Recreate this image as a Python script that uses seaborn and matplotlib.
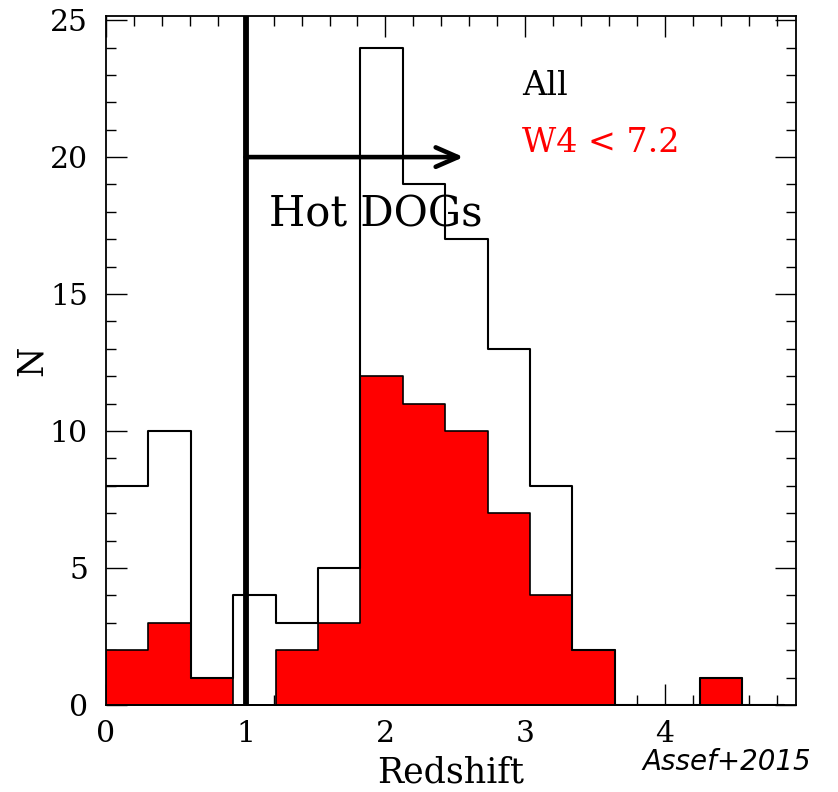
import numpy as np
import pandas as pd
import matplotlib
matplotlib.use("Agg")
import matplotlib.pyplot as plt
from matplotlib.ticker import MultipleLocator
import seaborn as sns

# ---- data ----
bin_edges = [float(v) for v in np.linspace(0.0, 4.856, 17)]
counts_all = [8, 10, 1, 4, 3, 5, 24, 19, 17, 13, 8, 2, 0, 0, 1, 0]
counts_w4 = [2, 3, 1, 0, 2, 3, 12, 11, 10, 7, 4, 2, 0, 0, 1, 0]
label_all = "All"
label_w4 = "W4 < 7.2"
cut_z = 1.0
arrow_end_z = 2.56
arrow_y = 20
region_label = "Hot DOGs"
credit = "Assef+2015"

edges_arr = np.array(bin_edges)
centers = 0.5 * (edges_arr[:-1] + edges_arr[1:])
df = pd.DataFrame({"z": centers, "all": counts_all, "w4": counts_w4})

sns.set_style("ticks")
plt.rcParams["font.family"] = ["DejaVu Serif"]
plt.rcParams["text.color"] = "black"
plt.rcParams["axes.labelcolor"] = "black"
plt.rcParams["xtick.color"] = "black"
plt.rcParams["ytick.color"] = "black"

fig = plt.figure(figsize=(8.38, 7.92), dpi=100)
ax = fig.add_axes([0.1265, 0.1098, 0.8235, 0.870])

sns.histplot(data=df, x="z", weights="w4", bins=bin_edges, element="step",
             fill=True, color="red", alpha=1.0, edgecolor="black",
             linewidth=1.2, ax=ax, zorder=2)
sns.histplot(data=df, x="z", weights="all", bins=bin_edges, element="step",
             fill=False, color="black", linewidth=1.5, ax=ax, zorder=3)

ax.axvline(cut_z, color="black", lw=4.2, zorder=4)
ax.annotate("", xy=(arrow_end_z, arrow_y), xytext=(cut_z, arrow_y),
            arrowprops=dict(arrowstyle="->, head_length=0.8, head_width=0.35",
                            lw=3.3, color="black", mutation_scale=20,
                            shrinkA=0, shrinkB=0, capstyle="round"),
            zorder=5)
ax.text(1.17, 17.9, region_label, fontsize=30, va="center", ha="left",
        color="black", zorder=6)
ax.text(2.98, 22.6, label_all, fontsize=24, color="black", va="center")
ax.text(2.98, 20.5, label_w4, fontsize=24, color="red", va="center")

ax.set_xlim(0, 4.94)
ax.set_ylim(0, 25.15)
ax.xaxis.set_major_locator(MultipleLocator(1))
ax.xaxis.set_minor_locator(MultipleLocator(0.2))
ax.yaxis.set_major_locator(MultipleLocator(5))
ax.yaxis.set_minor_locator(MultipleLocator(1))
ax.tick_params(which="both", direction="in", top=True, right=True,
               width=1.0, color="black")
ax.tick_params(which="major", length=15, labelsize=21.5)
ax.tick_params(axis="x", which="major", pad=10.5)
ax.tick_params(axis="y", which="major", pad=13)
ax.tick_params(which="minor", length=7.5)
for s in ax.spines.values():
    s.set_linewidth(1.3)
    s.set_color("black")

ax.set_xlabel("Redshift", fontsize=25, labelpad=6)
ax.set_ylabel("N", fontsize=25, labelpad=1)

fig.text(0.767, 0.028, credit, fontsize=20, style="italic",
         family="DejaVu Sans", ha="left", va="baseline")

fig.savefig("out.png", dpi=100)
